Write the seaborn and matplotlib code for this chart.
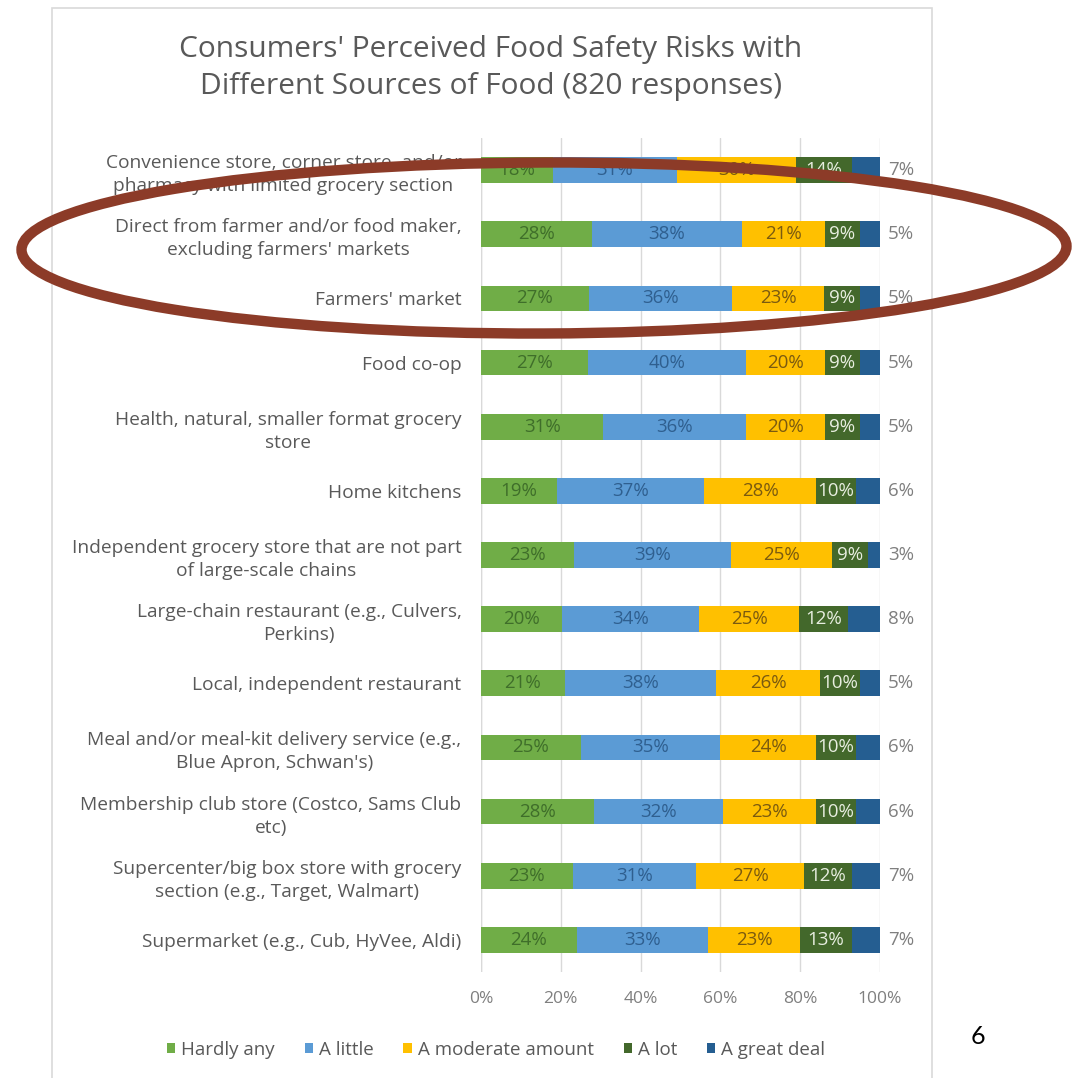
"""
Stacked 100% bar chart: consumers' perceived food safety risks by food source
"""

import numpy as np
import pandas as pd
import matplotlib
matplotlib.use('Agg')
import matplotlib.pyplot as plt
from matplotlib.patches import Ellipse, Rectangle, Patch
import seaborn as sns

# --------------
# data
# --------------
sources = [
    "Convenience store, corner store, and/or\npharmacy with limited grocery section",
    "Direct from farmer and/or food maker,\nexcluding farmers' markets",
    "Farmers' market",
    "Food co-op",
    "Health, natural, smaller format grocery\nstore",
    "Home kitchens",
    "Independent grocery store that are not part\nof large-scale chains",
    "Large-chain restaurant (e.g., Culvers,\nPerkins)",
    "Local, independent restaurant",
    "Meal and/or meal-kit delivery service (e.g.,\nBlue Apron, Schwan's)",
    "Membership club store (Costco, Sams Club\netc)",
    "Supercenter/big box store with grocery\nsection (e.g., Target, Walmart)",
    "Supermarket (e.g., Cub, HyVee, Aldi)",
]
levels = ['Hardly any', 'A little', 'A moderate amount', 'A lot', 'A great deal']

hardly_any = [18, 28, 27, 27, 31, 19, 23, 20, 21, 25, 28, 23, 24]
a_little = [31, 38, 36, 40, 36, 37, 39, 34, 38, 35, 32, 31, 33]
moderate = [30, 21, 23, 20, 20, 28, 25, 25, 26, 24, 23, 27, 23]
a_lot = [14, 9, 9, 9, 9, 10, 9, 12, 10, 10, 10, 12, 13]
great_deal = [7, 5, 5, 5, 5, 6, 3, 8, 5, 6, 6, 7, 7]

colors = ['#70AD47', '#5B9BD5', '#FFC000', '#43682B', '#255E91']
text_colors = ['#3F6E2A', '#2F5F8F', '#7A5A10', '#E8EEE0', '#7F7F7F']

# --------------
# build dataframe (100% stacked, as in the excel chart)
# --------------
df = pd.DataFrame({'source': sources,
                   levels[0]: hardly_any,
                   levels[1]: a_little,
                   levels[2]: moderate,
                   levels[3]: a_lot,
                   levels[4]: great_deal})
raw = df[levels].astype(float)
share = raw.div(raw.sum(axis=1), axis=0) * 100
cum = share.cumsum(axis=1)
for lev in levels:
    df['cum_' + lev] = cum[lev].values

# --------------
# plot
# --------------
sns.set_style('white')
plt.rcParams['font.family'] = ['Open Sans', 'DejaVu Sans']

fig = plt.figure(figsize=(10.76, 10.78), dpi=100)
ax = fig.add_axes([481 / 1076, 1 - 972 / 1078, 399 / 1076, 834 / 1078])

# draw cumulative bars from the back (largest) to the front
for lev, col in reversed(list(zip(levels, colors))):
    sns.barplot(data=df, x='cum_' + lev, y='source', orient='h',
                color=col, width=0.40, ax=ax, saturation=1,
                edgecolor='none', linewidth=0, zorder=2)

# data labels
for i in range(len(df)):
    start = 0.0
    for j, lev in enumerate(levels):
        w = share.iloc[i, j]
        txt = f'{int(raw.iloc[i, j])}%'
        if j < 4:
            ax.text(start + w / 2, i, txt, ha='center', va='center',
                    fontsize=13.5, color=text_colors[j], zorder=4)
        else:
            ax.text(102, i, txt, ha='left', va='center',
                    fontsize=13.5, color=text_colors[j], zorder=4)
        start += w

ax.set_xlim(0, 100)
ax.set_xticks(np.arange(0, 101, 20))
ax.set_xticklabels([f'{t}%' for t in range(0, 101, 20)])
ax.grid(axis='x', color='#D9D9D9', linewidth=1, zorder=0)
ax.set_axisbelow(True)
for s in ax.spines.values():
    s.set_visible(False)
ax.axvline(0, color='#D9D9D9', linewidth=1, zorder=1)
ax.set_xlabel('')
ax.set_ylabel('')
ax.tick_params(axis='x', length=0, pad=14, labelsize=12.5, labelcolor='#7F7F7F')
ax.tick_params(axis='y', length=0, pad=14, labelsize=13.8, labelcolor='#595959')
for lab in ax.get_yticklabels():
    lab.set_multialignment('center')
    lab.set_linespacing(1.35)

# title
fig.text(491 / 1076, 1 - 68 / 1078,
         "Consumers' Perceived Food Safety Risks with\nDifferent Sources of Food (820 responses)",
         ha='center', va='center', fontsize=21.5, color='#595959',
         linespacing=1.4)

# legend
handles = [Patch(facecolor=c, edgecolor='none') for c in colors]
fig.legend(handles, levels, loc='center', bbox_to_anchor=(496 / 1076, 1 - 1050 / 1078),
           ncol=5, frameon=False, fontsize=13.5, labelcolor='#595959',
           handlelength=0.45, handleheight=0.45, handletextpad=0.3,
           columnspacing=1.6)

# chart frame
fig.add_artist(Rectangle((52 / 1076, -0.01), (932 - 52) / 1076, 1 - 8 / 1078 + 0.01,
                         transform=fig.transFigure, fill=False,
                         edgecolor='#D9D9D9', linewidth=1.2))

# slide number
fig.text(978 / 1076, 1 - 1037 / 1078, '6', ha='center', va='center',
         fontsize=18, color='black', family=['Lato', 'DejaVu Sans'])

# highlight ellipse
fig.add_artist(Ellipse((5.44, 10.78 - 2.48), 10.45, 1.71, angle=0.2,
                       transform=fig.dpi_scale_trans, fill=False,
                       edgecolor='#8C3B28', linewidth=7.5, zorder=10))

plt.savefig('out.png', dpi=100)
